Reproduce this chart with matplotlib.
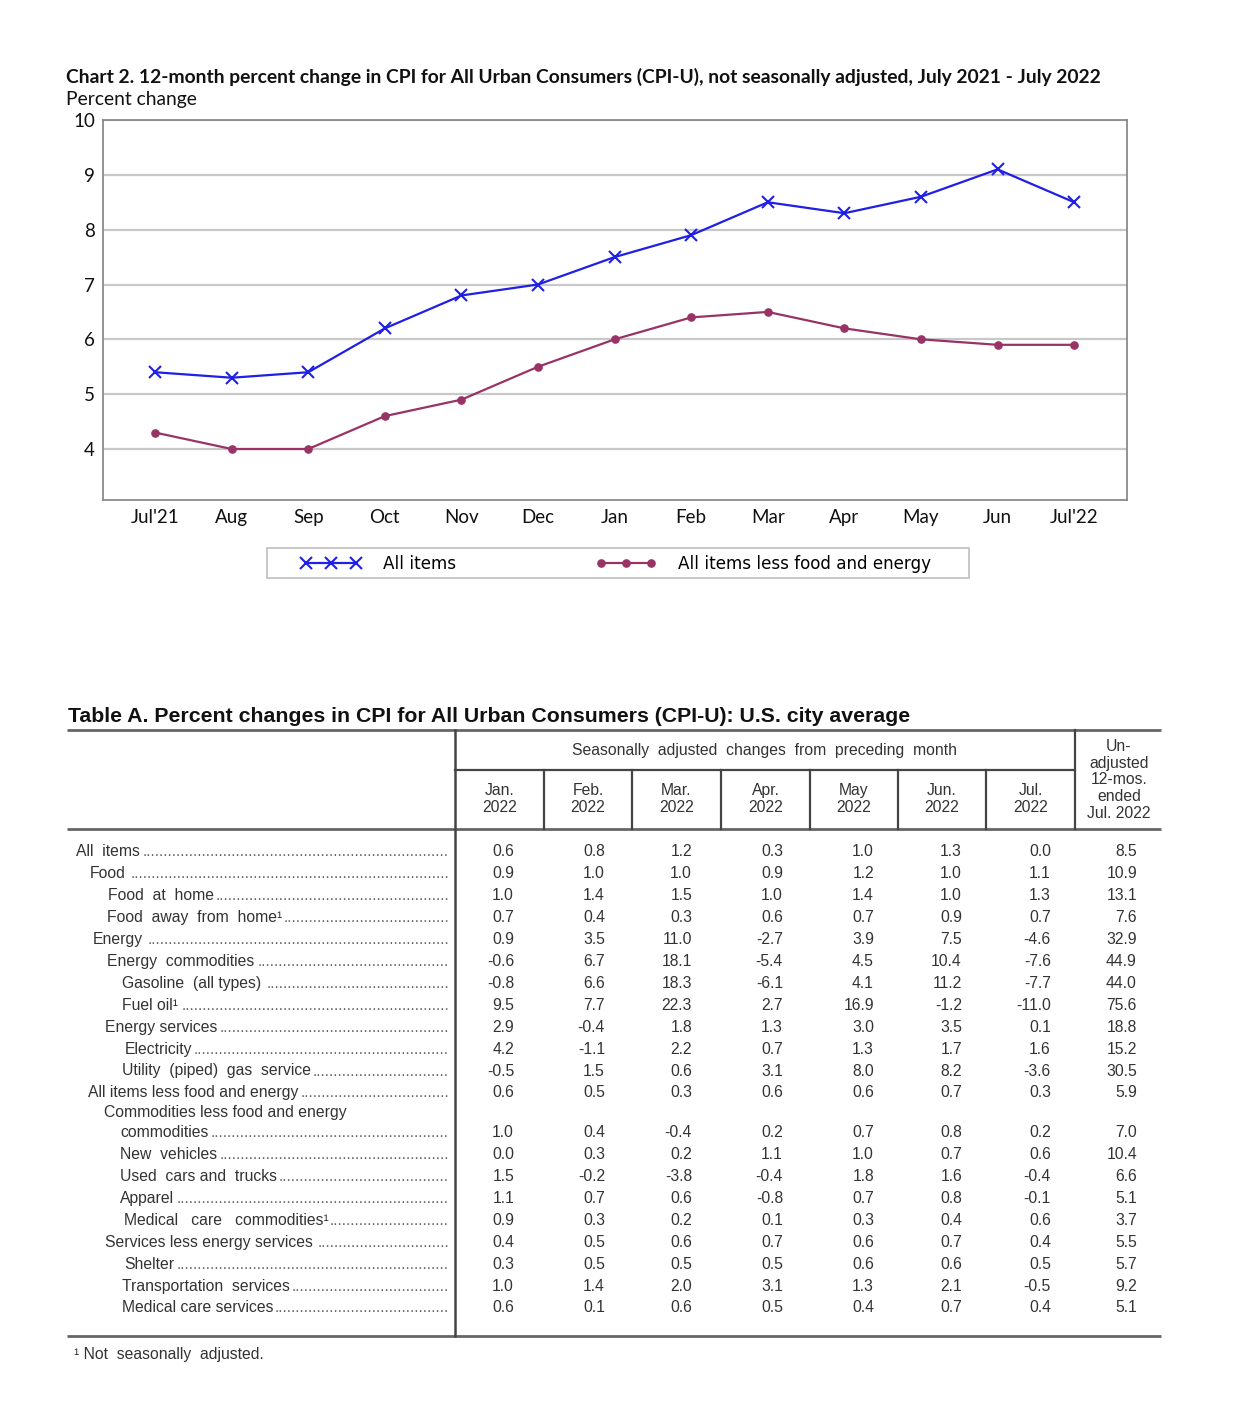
import matplotlib
matplotlib.use("Agg")
import matplotlib.pyplot as plt
from matplotlib.patches import Rectangle

# ---------------- data ----------------
months = ["Jul'21", "Aug", "Sep", "Oct", "Nov", "Dec", "Jan", "Feb", "Mar",
          "Apr", "May", "Jun", "Jul'22"]
all_items = [5.4, 5.3, 5.4, 6.2, 6.8, 7.0, 7.5, 7.9, 8.5, 8.3, 8.6, 9.1, 8.5]
core_items = [4.3, 4.0, 4.0, 4.6, 4.9, 5.5, 6.0, 6.4, 6.5, 6.2, 6.0, 5.9, 5.9]
yticks = [4, 5, 6, 7, 8, 9, 10]

chart_title = ("Chart 2. 12-month percent change in CPI for All Urban Consumers (CPI-U), "
               "not seasonally adjusted, July 2021 - July 2022")
table_title = "Table A. Percent changes in CPI for All Urban Consumers (CPI-U): U.S. city average"

col_headers = ["Jan.\n2022", "Feb.\n2022", "Mar.\n2022", "Apr.\n2022",
               "May\n2022", "Jun.\n2022", "Jul.\n2022"]
last_header = "Un-\nadjusted\n12-mos.\nended\nJul. 2022"

row_labels = ["All  items", "Food", "Food  at  home", "Food  away  from  home\u00b9",
              "Energy", "Energy  commodities", "Gasoline  (all types)", "Fuel oil\u00b9",
              "Energy services", "Electricity", "Utility  (piped)  gas  service",
              "All items less food and energy", "commodities", "New  vehicles",
              "Used  cars and  trucks", "Apparel", "Medical   care   commodities\u00b9",
              "Services less energy services", "Shelter", "Transportation  services",
              "Medical care services"]

jan22 = [0.6, 0.9, 1.0, 0.7, 0.9, -0.6, -0.8, 9.5, 2.9, 4.2, -0.5, 0.6, 1.0, 0.0, 1.5, 1.1, 0.9, 0.4, 0.3, 1.0, 0.6]
feb22 = [0.8, 1.0, 1.4, 0.4, 3.5, 6.7, 6.6, 7.7, -0.4, -1.1, 1.5, 0.5, 0.4, 0.3, -0.2, 0.7, 0.3, 0.5, 0.5, 1.4, 0.1]
mar22 = [1.2, 1.0, 1.5, 0.3, 11.0, 18.1, 18.3, 22.3, 1.8, 2.2, 0.6, 0.3, -0.4, 0.2, -3.8, 0.6, 0.2, 0.6, 0.5, 2.0, 0.6]
apr22 = [0.3, 0.9, 1.0, 0.6, -2.7, -5.4, -6.1, 2.7, 1.3, 0.7, 3.1, 0.6, 0.2, 1.1, -0.4, -0.8, 0.1, 0.7, 0.5, 3.1, 0.5]
may22 = [1.0, 1.2, 1.4, 0.7, 3.9, 4.5, 4.1, 16.9, 3.0, 1.3, 8.0, 0.6, 0.7, 1.0, 1.8, 0.7, 0.3, 0.6, 0.6, 1.3, 0.4]
jun22 = [1.3, 1.0, 1.0, 0.9, 7.5, 10.4, 11.2, -1.2, 3.5, 1.7, 8.2, 0.7, 0.8, 0.7, 1.6, 0.8, 0.4, 0.7, 0.6, 2.1, 0.7]
jul22 = [0.0, 1.1, 1.3, 0.7, -4.6, -7.6, -7.7, -11.0, 0.1, 1.6, -3.6, 0.3, 0.2, 0.6, -0.4, -0.1, 0.6, 0.4, 0.5, -0.5, 0.4]
unadj12 = [8.5, 10.9, 13.1, 7.6, 32.9, 44.9, 44.0, 75.6, 18.8, 15.2, 30.5, 5.9, 7.0, 10.4, 6.6, 5.1, 3.7, 5.5, 5.7, 9.2, 5.1]
table_columns = [jan22, feb22, mar22, apr22, may22, jun22, jul22, unadj12]

# ---------------- layout (pixels) ----------------
W, H = 1242, 1421
fig = plt.figure(figsize=(W / 100, H / 100), dpi=100)
fig.patch.set_facecolor("white")

def fx(x):
    return x / W

def fy(y):
    return 1 - y / H

CH_FONT = "Lato"
BLUE = "#1f1fe6"
MAROON = "#993366"

# ---------------- chart ----------------
ax_l, ax_r, ax_t, ax_b = 103, 1127, 120, 500
ax = fig.add_axes([fx(ax_l), fy(ax_b), (ax_r - ax_l) / W, (ax_b - ax_t) / H])
x = list(range(len(months)))
l1, = ax.plot(x, all_items, color=BLUE, lw=1.6, marker="x", ms=8, mew=1.5,
              label="All items")
l2, = ax.plot(x, core_items, color=MAROON, lw=1.6, marker="o", ms=5.2,
              label="All items less food and energy")
ax.set_xlim(-0.68, 12.69)
ax.set_ylim(3.07, 10)
ax.set_yticks(yticks)
ax.set_yticklabels([str(t) for t in yticks], fontfamily=CH_FONT, fontsize=13.5)
ax.set_xticks(x)
ax.set_xticklabels(months, fontfamily=CH_FONT, fontsize=13.5)
ax.tick_params(axis="both", length=0, colors="#111111")
ax.tick_params(axis="y", pad=5.8)
ax.tick_params(axis="x", pad=6.5)
ax.yaxis.grid(True, color="#c8c8c8", lw=1.6)
ax.set_axisbelow(True)
for s in ax.spines.values():
    s.set_color("#8a8a8a")
    s.set_linewidth(1.3)

fig.text(fx(66), fy(77), chart_title, fontfamily=CH_FONT, fontweight="bold",
         fontsize=13.85, va="center", ha="left", color="#111111")
fig.text(fx(66), fy(100), "Percent change", fontfamily=CH_FONT, fontsize=13.85,
         va="center", ha="left", color="#111111")

# legend
fig.patches.append(Rectangle((fx(267), fy(578)), (969 - 267) / W, 30 / H,
                             transform=fig.transFigure, fill=False,
                             ec="#c4c4c4", lw=1.3))
fig.legend(handles=[l1, l2], loc="center left", bbox_to_anchor=(fx(301), fy(564)),
           ncol=2, frameon=False, numpoints=3, handlelength=3.6, handletextpad=1.3,
           columnspacing=8.3, borderpad=0, borderaxespad=0,
           prop={"family": "DejaVu Sans", "size": 12.1})

# ---------------- table ----------------
tax = fig.add_axes([0, 0, 1, 1])
tax.set_xlim(0, W)
tax.set_ylim(H, 0)
tax.axis("off")

TF = "Liberation Sans"
TC = "#333333"
TS = 11.3

tax.text(68, 716, table_title, fontfamily=TF, fontweight="bold", fontsize=15.3,
         va="center", ha="left", color="#111111")

# rules
tax.plot([67, 1161], [730, 730], color="#666666", lw=2.0, solid_capstyle="butt")
tax.plot([67, 1161], [829, 829], color="#666666", lw=2.0, solid_capstyle="butt")
tax.plot([67, 1161], [1336, 1336], color="#666666", lw=2.0, solid_capstyle="butt")
tax.plot([455, 455], [730, 1336], color="#444444", lw=1.8)
tax.plot([455, 1075], [770, 770], color="#444444", lw=1.6)
tax.plot([1075, 1075], [730, 829], color="#444444", lw=1.6)
col_edges = [455, 544, 632, 721, 810, 898, 986, 1075]
for xe in col_edges[1:-1]:
    tax.plot([xe, xe], [770, 829], color="#444444", lw=1.6)

tax.text(765, 750, "Seasonally  adjusted  changes  from  preceding  month",
         fontfamily=TF, fontsize=TS, ha="center", va="center", color=TC)
for i, h in enumerate(col_headers):
    cx = (col_edges[i] + col_edges[i + 1]) / 2
    tax.text(cx, 799, h, fontfamily=TF, fontsize=TS, ha="center", va="center",
             color=TC, linespacing=1.15)
tax.text(1119, 780, last_header, fontfamily=TF, fontsize=TS, ha="center",
         va="center", color=TC, linespacing=1.13)

indents = [76, 90, 108, 107, 93, 107, 122, 122, 105, 125, 122, 88,
           120, 120, 120, 120, 124, 105, 124, 122, 122]
value_right = [514, 605, 692, 783, 874, 962, 1051, 1137]

def row_y(i):
    return 852 + i * 21.9 + (18 if i >= 12 else 0)

fig.canvas.draw()
renderer = fig.canvas.get_renderer()
probe = tax.text(0, 0, "." * 20, fontfamily=TF, fontsize=TS)
dot_w = probe.get_window_extent(renderer).width / 20
probe.remove()

LEAD_END = 449
for i, lab in enumerate(row_labels):
    y = row_y(i)
    t = tax.text(indents[i], y, lab, fontfamily=TF, fontsize=TS, ha="left",
                 va="center", color=TC)
    x1 = t.get_window_extent(renderer).x1
    n = int((LEAD_END - x1 - 1) / dot_w)
    if n > 0:
        tax.text(LEAD_END, y, "." * n, fontfamily=TF, fontsize=TS, ha="right",
                 va="center", color="#666666")
    for c, col in enumerate(table_columns):
        tax.text(value_right[c], y, f"{col[i]:.1f}", fontfamily=TF, fontsize=TS,
                 ha="right", va="center", color=TC)

tax.text(104, row_y(12) - 20, "Commodities less food and energy", fontfamily=TF,
         fontsize=TS, ha="left", va="center", color=TC)

tax.text(74, 1354, "\u00b9 Not  seasonally  adjusted.", fontfamily=TF, fontsize=TS,
         ha="left", va="center", color=TC)

fig.savefig("out.png", dpi=100, facecolor="white")
